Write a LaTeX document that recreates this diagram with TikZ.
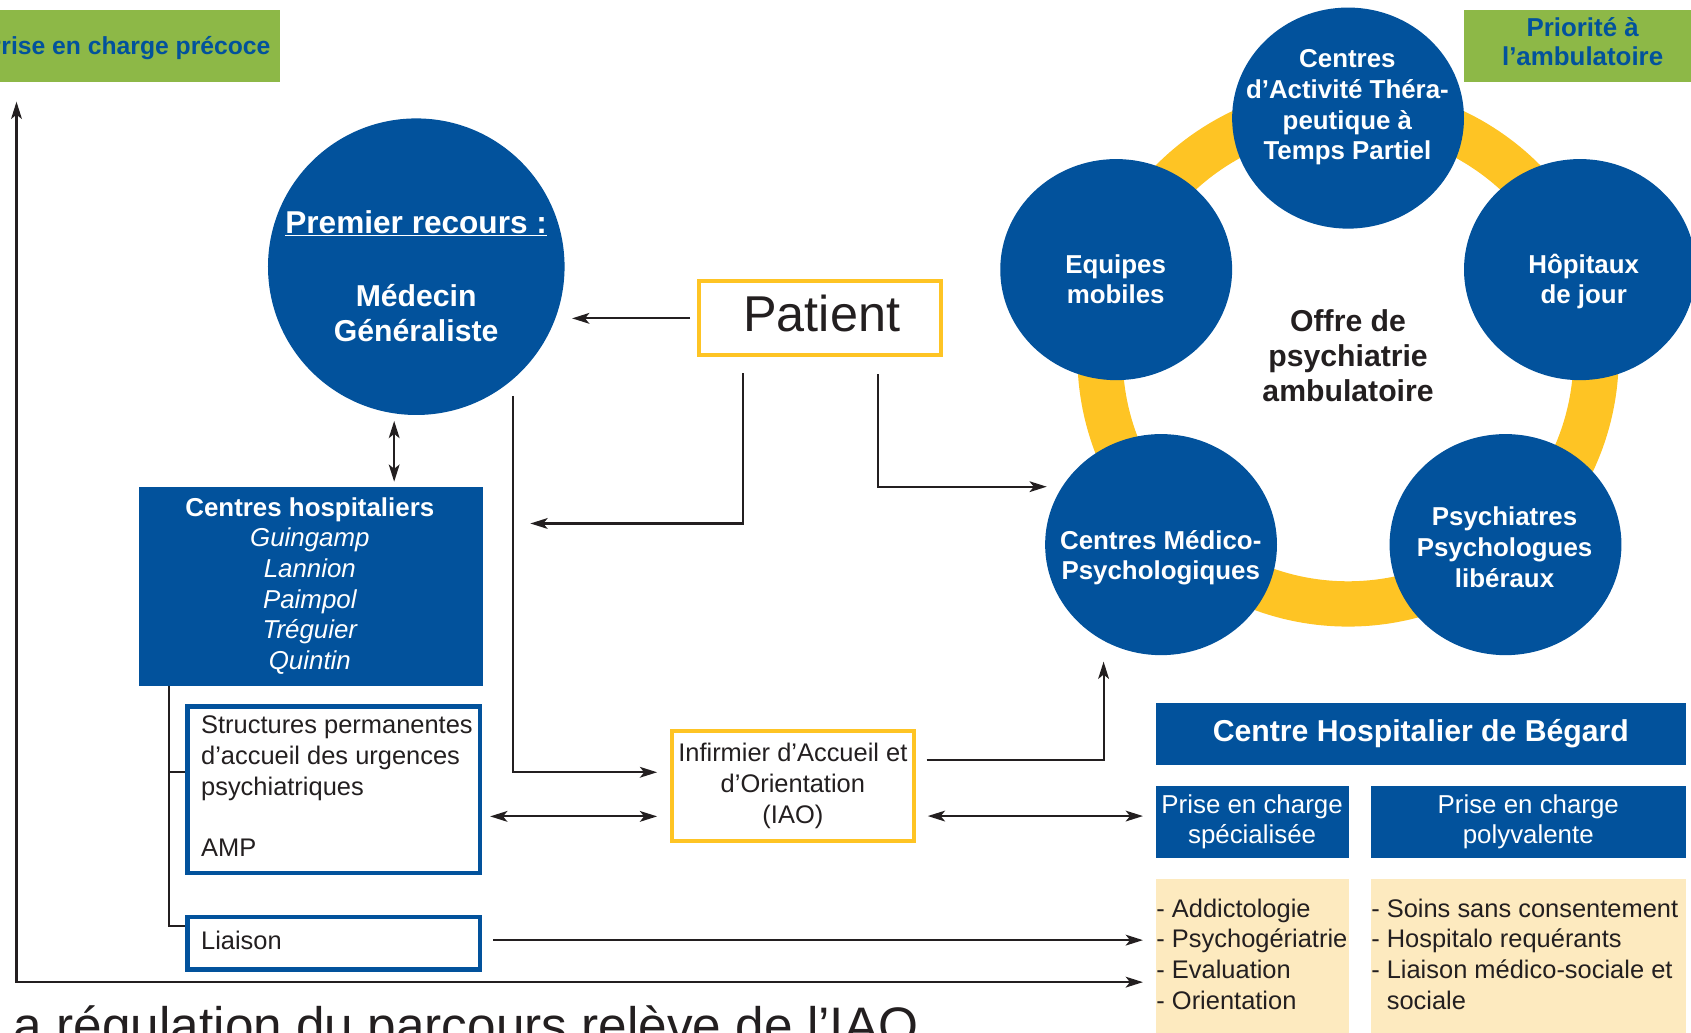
\documentclass[tikz,border=0pt]{standalone}
\usepackage{fontspec}
\setmainfont{Liberation Sans}
\usetikzlibrary{shapes.geometric, arrows.meta, positioning, calc}
\definecolor{cBlue}{RGB}{2,82,156}
\definecolor{cYellow}{RGB}{254,196,36}
\definecolor{cGreen}{RGB}{141,184,71}
\definecolor{cBeige}{RGB}{253,234,191}
\definecolor{cInk}{RGB}{35,31,32}
\tikzset{
	bubble/.style={ellipse, fill=cBlue, minimum width=215pt, minimum height=205pt, inner sep=0pt, outer sep=0pt},
	bubbletext/.style={anchor=base, align=center, inner sep=0pt, text=white, font=\bfseries\fontsize{24}{28.5}\selectfont},
	yellowbox/.style={rectangle, draw=cYellow, line width=3.7pt, fill=white, inner sep=0pt},
	outlinebox/.style={rectangle, draw=cBlue, line width=4pt, fill=white, inner sep=0pt},
	bluebox/.style={rectangle, fill=cBlue, inner sep=0pt, outer sep=0pt},
	listbox/.style={rectangle, fill=cBeige, inner sep=0pt, outer sep=0pt},
	tagbox/.style={rectangle, fill=cGreen, inner sep=0pt, outer sep=0pt},
	bodytext/.style={inner sep=0pt, text=cInk, font=\fontsize{23.6}{28.5}\selectfont},
	% connectors
	flowarrow/.style={-{Stealth[length=16pt, width=10pt, inset=4pt]}, line width=1.9pt, draw=cInk},
	twoway/.style={{Stealth[length=16pt, width=10pt, inset=4pt]}-{Stealth[length=16pt, width=10pt, inset=4pt]}, line width=1.9pt, draw=cInk},
	linkline/.style={line width=1.9pt, draw=cInk},
}

\begin{document}
\begin{tikzpicture}[x=1pt, y=-1pt]
	\useasboundingbox (0,0) rectangle (1568,957);
	\clip (0,0) rectangle (1568,957);

	% green tags
	\node[tagbox, minimum width=279.7pt, minimum height=66.4pt] (precoce) at (119.85,42.5) {};
	\node[anchor=base east, inner sep=0pt, text=cBlue, font=\bfseries\fontsize{22.9}{28}\selectfont] at ([xshift=-8.7pt, yshift=-8.5pt]precoce.east) {Prise en charge précoce};
	\node[tagbox, minimum width=222.4pt, minimum height=66.4pt] (ambu) at (1468.8,42.5) {};
	\node[anchor=base, align=center, inner sep=0pt, text=cBlue, font=\bfseries\fontsize{24}{26.3}\selectfont] at (1467.5,60.3) {Priorité à\\l’ambulatoire};

	% first recourse
	\node[circle, fill=cBlue, minimum size=275pt, inner sep=0pt, outer sep=0pt] (medecin) at (386,247.3) {};
	\node[bubbletext, font=\bfseries\fontsize{28}{32.4}\selectfont] at (385.9,316.8) {\fontsize{29.3}{32.4}\selectfont\underline{Premier recours :}\\[35.6pt]Médecin\\Généraliste};

	\node[yellowbox, minimum width=224.5pt, minimum height=68.5pt] (patient) at (760.7,295.2) {};
	\node[anchor=base, inner sep=0pt, text=cInk, font=\fontsize{46.7}{50}\selectfont] at ([xshift=1.3pt, yshift=-12.4pt]patient.center) {Patient};

	% hospital centres
	\node[bluebox, minimum width=319.2pt, minimum height=184.1pt] (chospit) at (288.3,543.75) {};
	\node[bubbletext] at (287.3,621) {Centres hospitaliers\\\mdseries\itshape Guingamp\\\mdseries\itshape Lannion\\\mdseries\itshape Paimpol\\\mdseries\itshape Tréguier\\\mdseries\itshape Quintin};

	\node[outlinebox, minimum width=271.2pt, minimum height=154.4pt] (structures) at (309.4,732.2) {};
	\node[bodytext, anchor=base west, align=left] at (186.3,794.3) {Structures permanentes\\d’accueil des urgences\\psychiatriques\\[28.4pt]AMP};
	\node[outlinebox, minimum width=271.2pt, minimum height=48.7pt, below=36.8pt of structures] (liaison) {};
	\node[bodytext, anchor=base west] at (186.3,880.3) {Liaison};

	\node[yellowbox, minimum width=224.7pt, minimum height=101.3pt] (iao) at (735.1,728.9) {};
	\node[bodytext, anchor=base, align=center] at (735.2,763.5) {Infirmier d’Accueil et\\d’Orientation\\(IAO)};

	% ambulatory offer
	\node[circle, draw=cYellow, line width=42pt, minimum size=460pt, inner sep=0pt, text=cInk, align=center, font=\bfseries\fontsize{28}{32.2}\selectfont] (ring) at (1250,330) {Offre de\\psychiatrie\\ambulatoire};
	\node[bubble] (catp) at (1250,109.5) {};
	\node[bubbletext] at (1249.4,148.3) {Centres\\d’Activité Théra-\\peutique à\\Temps Partiel};
	\node[bubble] (equipes) at (1035,250) {};
	\node[bubbletext] at (1034.5,281.8) {Equipes\\mobiles};
	\node[bubble] (hdj) at (1465,250) {};
	\node[bubbletext] at (1468.5,281.8) {Hôpitaux\\de jour};
	\node[bubble] (cmp) at (1076.6,505) {};
	\node[bubbletext] at (1076.3,537.8) {Centres Médico-\\Psychologiques};
	\node[bubble] (liberal) at (1396,505) {};
	\node[bubbletext] at (1395.1,544.4) {Psychiatres\\Psychologues\\libéraux};

	% Begard
	\node[bluebox, minimum width=491.3pt, minimum height=57.2pt] (begard) at (1317.75,680.5) {};
	\node[bubbletext, font=\bfseries\fontsize{28}{32}\selectfont] at (1317.5,687.1) {Centre Hospitalier de Bégard};
	\node[bluebox, minimum width=179pt, minimum height=66.4pt, below right=19.8pt and 0pt of begard.south west] (prisespe) {};
	\node[bluebox, minimum width=292.1pt, minimum height=66.4pt, below left=19.8pt and 0pt of begard.south east] (prisepoly) {};
	\node[bodytext, anchor=base, align=center, text=white, font=\fontsize{24}{27.8}\selectfont] at (1161,782) {Prise en charge\\spécialisée};
	\node[bodytext, anchor=base, align=center, text=white, font=\fontsize{24}{27.8}\selectfont] at (1417.1,782) {Prise en charge\\polyvalente};
	\node[listbox, minimum width=179pt, minimum height=150pt, below right=20.1pt and 0pt of prisespe.south west] (listspe) {};
	\node[listbox, minimum width=292.1pt, minimum height=150pt, below right=20.1pt and 0pt of prisepoly.south west] (listpoly) {};
	\node[bodytext, anchor=base west, align=left] at ([yshift=-120.6pt]listspe.north west) {- Addictologie\\- Psychogériatrie\\- Evaluation\\- Orientation};
	\node[bodytext, anchor=base west, align=left] at ([yshift=-120.6pt]listpoly.north west) {- Soins sans consentement\\- Hospitalo requérants\\- Liaison médico-sociale et\\\phantom{- }sociale};

	\node[anchor=base west, inner sep=0pt, text=cInk, font=\fontsize{47.6}{53}\selectfont] (caption) at (-13.7,968) {La régulation du parcours relève de l’IAO};

	% connectors
	\draw[flowarrow, shorten <=6.6pt, shorten >=7pt] (patient.west) -- (patient.west -| medecin.east);
	\draw[twoway] ([xshift=-20.5pt, yshift=-5.5pt]medecin.south) -- ([xshift=77.2pt, yshift=5pt]chospit.north);
	\coordinate (gpJoin) at (491.8,485.4);
	\draw[flowarrow] ([xshift=-72pt, yshift=-15pt]patient.south) |- (gpJoin);
	\draw[flowarrow] ([shift={(89.5,119.7)}]medecin.center) |- ([xshift=-11.6pt, yshift=12.8pt]iao.west);
	\draw[flowarrow] ([xshift=53.8pt, yshift=-15.6pt]patient.south) |- ([xshift=-106pt, yshift=53.7pt]cmp.center);
	\coordinate (brTop) at ([xshift=-131.3pt]chospit.south);
	\coordinate (brMid) at ([yshift=16.1pt]structures.west);
	\draw[linkline] (brTop) |- ([yshift=15.5pt]liaison.west);
	\draw[linkline] (brMid) -- (brMid -| brTop);
	\draw[twoway] ([xshift=7.5pt, yshift=-24.8pt]structures.east) -- ([xshift=-11.6pt, yshift=-28.1pt]iao.west);
	\draw[twoway] ([xshift=11pt, yshift=-27.8pt]iao.east) -- ([xshift=-12.3pt, yshift=5.4pt]prisespe.west);
	\draw[flowarrow] ([xshift=10pt, yshift=24.1pt]iao.east) -| ([xshift=-53.3pt, yshift=-6pt]cmp.south);
	\coordinate (liaisonOut) at ([xshift=10.4pt, yshift=2.8pt]liaison.east);
	\draw[flowarrow, shorten >=12.3pt] (liaisonOut) -- (liaisonOut -| listspe.west);
	\draw[twoway] ([xshift=35.3pt, yshift=-18.6pt]precoce.south west) |- ([xshift=-12.3pt, yshift=-20.3pt]listspe.west);
\end{tikzpicture}
\end{document}
